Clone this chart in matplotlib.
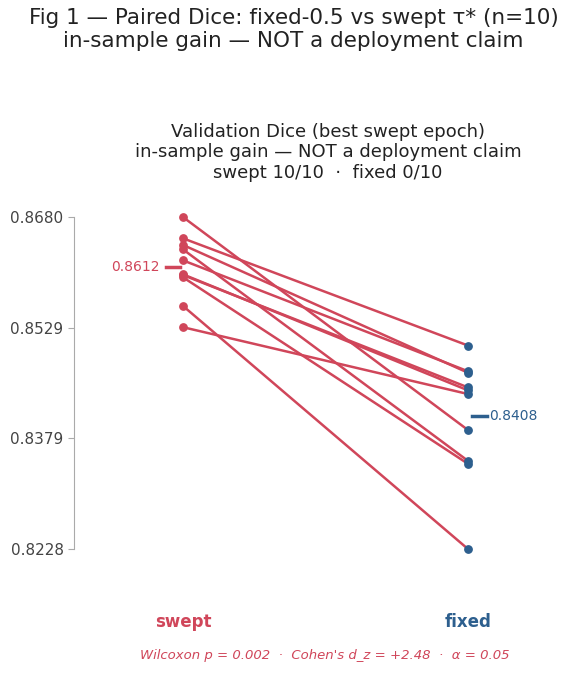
import matplotlib.pyplot as plt
import numpy as np

swept = [0.8680, 0.8651, 0.8642, 0.8636, 0.8621, 0.8602, 0.8601, 0.8598, 0.8559, 0.8530]
fixed = [0.8390, 0.8505, 0.8468, 0.8348, 0.8470, 0.8444, 0.8448, 0.8344, 0.8228, 0.8439]
groups = ['swept', 'fixed']

red = '#d0465a'
blue = '#2d5f8e'

fig = plt.figure(figsize=(5.87, 6.88), dpi=100)
ax = fig.add_axes([74/587, 139/688, 508/587, 332/688])

for s, f in zip(swept, fixed):
    ax.plot([0, 1], [s, f], color=red, lw=1.8, zorder=2)
ax.scatter(np.zeros(len(swept)), swept, color=red, s=28, zorder=3, clip_on=False)
ax.scatter(np.ones(len(fixed)), fixed, color=blue, s=28, zorder=3, clip_on=False)

ms, mf = np.mean(swept), np.mean(fixed)
ax.plot([-0.06, -0.01], [ms, ms], color=red, lw=2.5, clip_on=False)
ax.text(-0.08, ms, f'{ms:.4f}', color=red, fontsize=10, ha='right', va='center')
ax.plot([1.015, 1.065], [mf, mf], color=blue, lw=2.5, clip_on=False)
ax.text(1.075, mf, f'{mf:.4f}', color=blue, fontsize=10, ha='left', va='center')

lo, hi = min(swept + fixed), max(swept + fixed)
ax.set_ylim(lo, hi)
ax.set_xlim(-0.382, 1.4)
ax.set_yticks(np.linspace(lo, hi, 4))
ax.set_yticklabels([f'{v:.4f}' for v in np.linspace(lo, hi, 4)], fontsize=11, color='#444444')
ax.tick_params(axis='y', color='#aaaaaa', length=4)
ax.set_xticks([])
for side in ['top', 'right', 'bottom']:
    ax.spines[side].set_visible(False)
ax.spines['left'].set_color('#aaaaaa')

ax.text(0, -0.22, groups[0], transform=ax.get_xaxis_transform(), color=red,
        fontsize=12, fontweight='bold', ha='center', va='center')
ax.text(1, -0.22, groups[1], transform=ax.get_xaxis_transform(), color=blue,
        fontsize=12, fontweight='bold', ha='center', va='center')

ax.set_title('Validation Dice (best swept epoch)\nin-sample gain — NOT a deployment claim\nswept 10/10  ·  fixed 0/10',
             fontsize=13, color='#222222', pad=28, x=0.5)
fig.suptitle('Fig 1 — Paired Dice: fixed-0.5 vs swept τ* (n=10)\nin-sample gain — NOT a deployment claim',
             fontsize=15.5, color='#222222', y=0.988)
fig.text(325/587, 1 - 656/688, "Wilcoxon p = 0.002  ·  Cohen's d_z = +2.48  ·  α = 0.05",
         color=red, fontsize=9.5, style='italic', ha='center', va='center')

fig.savefig('out.png', dpi=100)
